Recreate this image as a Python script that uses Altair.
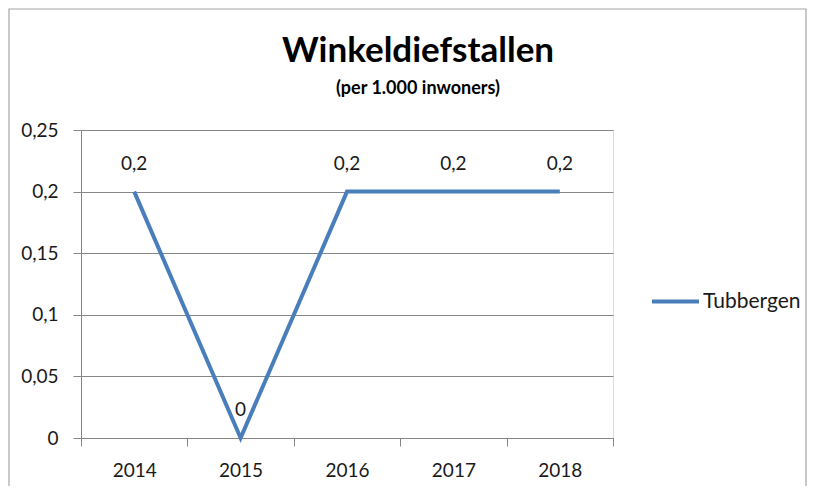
import altair as alt
import pandas as pd

years = [2014, 2015, 2016, 2017, 2018]
values = [0.2, 0.0, 0.2, 0.2, 0.2]
series = ["Tubbergen"] * 5
y_ticks = [0, 0.05, 0.1, 0.15, 0.2, 0.25]

df = pd.DataFrame({"jaar": years, "waarde": values, "gemeente": series})
df["label"] = [str(v).rstrip("0").rstrip(".").replace(".", ",") if v != 0 else "0" for v in values]

x_vals = [years[0] - 0.5] + [v for y in years for v in (y, y + 0.5)]

FONT = "Lato"
GRAY = "#868686"
TXT = "#1a1a1a"
FS = 19

x = alt.X(
    "jaar:Q",
    scale=alt.Scale(domain=[years[0] - 0.5, years[-1] + 0.5], nice=False, zero=False),
    axis=alt.Axis(
        title=None,
        values=x_vals,
        grid=False,
        labelExpr="(datum.value % 1) != 0 ? '' : toString(datum.value)",
        labelOverlap=False,
        labelFlush=False,
        tickOpacity={"condition": {"test": "(datum.value % 1) != 0", "value": 1}, "value": 0},
        tickSize=8,
        tickColor=GRAY,
        domainColor=GRAY,
        labelPadding=15,
        labelFont=FONT,
        labelFontSize=FS,
        labelColor=TXT,
    ),
)
y = alt.Y(
    "waarde:Q",
    scale=alt.Scale(domain=[0, 0.25], nice=False),
    axis=alt.Axis(
        title=None,
        values=y_ticks,
        labelExpr="replace(format(datum.value, '~g'), '.', ',')",
        labelOverlap=False,
        grid=True,
        gridColor=GRAY,
        tickSize=8,
        tickColor=GRAY,
        domainColor=GRAY,
        labelPadding=15,
        labelFont=FONT,
        labelFontSize=FS,
        labelColor=TXT,
    ),
)

color = alt.Color(
    "gemeente:N",
    scale=alt.Scale(range=["#4a7ebb"]),
    legend=alt.Legend(
        title=None,
        orient="none",
        legendX=569,
        legendY=146,
        symbolType="stroke",
        symbolSize=2209,
        symbolStrokeWidth=4,
        labelFont=FONT,
        labelFontSize=21,
        labelColor=TXT,
        labelOffset=2,
        padding=0,
    ),
)

line = alt.Chart(df).mark_line(strokeWidth=4).encode(x=x, y=y, color=color)
labels = alt.Chart(df).mark_text(
    font=FONT, fontSize=FS, color=TXT, baseline="middle", dy=-28
).encode(x=x, y=y, text="label:N")

frame = alt.Chart(pd.DataFrame({"a": [1]})).mark_rect(
    fill=None, stroke="#a6a6a6", strokeWidth=1.2, clip=False
).encode(
    x=alt.value(-72), x2=alt.value(725), y=alt.value(-121), y2=alt.value(380)
)

chart = alt.layer(frame, line, labels).properties(
    width=532,
    height=308,
    padding={"left": 73, "top": 122, "right": 194, "bottom": 48},
    autosize=alt.AutoSizeParams(type="none"),
    title=alt.Title(
        "Winkeldiefstallen",
        subtitle="(per 1.000 inwoners)",
        font=FONT,
        fontSize=35,
        fontWeight="bold",
        color="#000000",
        subtitleFont=FONT,
        subtitleFontSize=18,
        subtitleFontWeight="bold",
        subtitleColor="#000000",
        subtitlePadding=11,
        anchor="middle",
        frame="group",
        dx=71,
        offset=-90,
    ),
).configure_view(stroke=None).configure(background="white")

chart.save("out.html", embed_options={"renderer": "svg", "actions": False})
